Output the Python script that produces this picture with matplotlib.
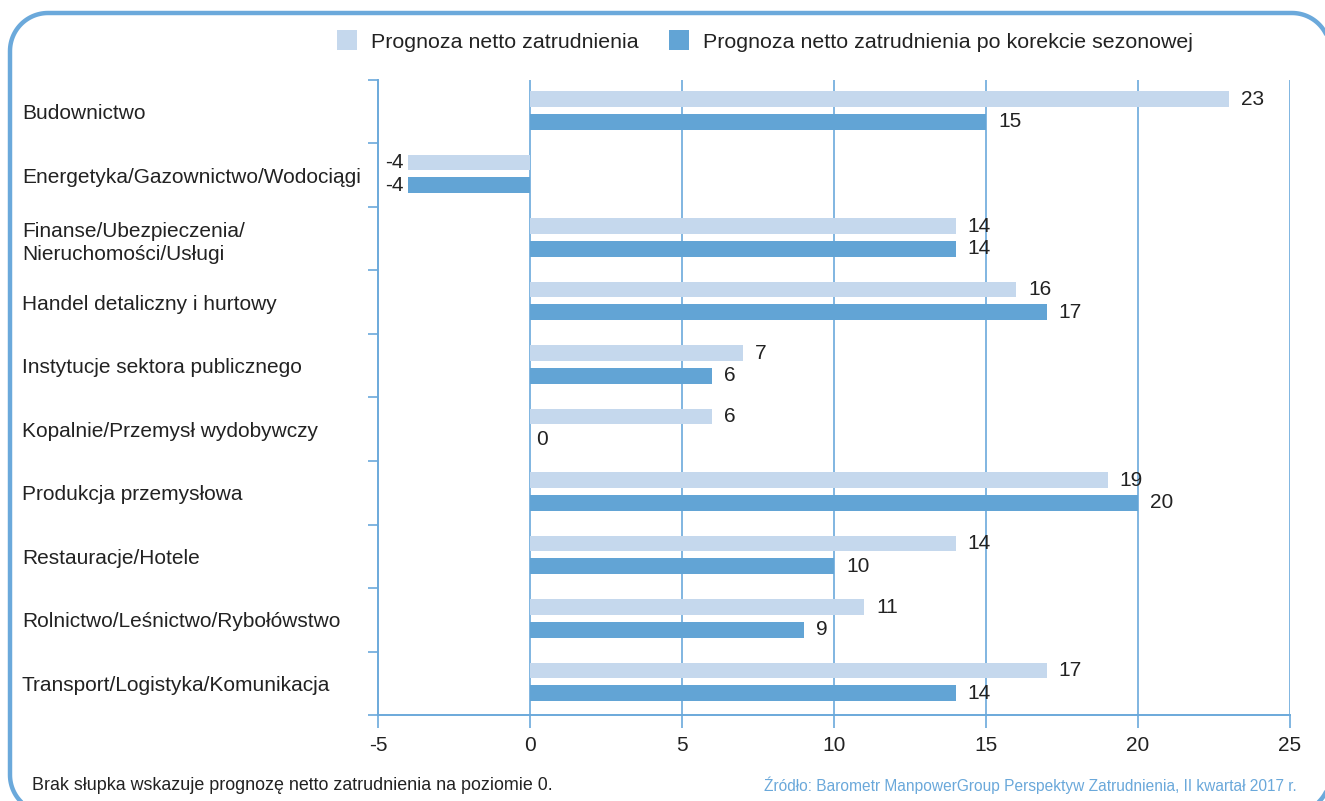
import numpy as np
import matplotlib.pyplot as plt
from matplotlib.patches import Patch

plt.rcParams['font.family'] = ['Liberation Sans', 'DejaVu Sans']

# Dane
categories = [
    "Budownictwo",
    "Energetyka/Gazownictwo/Wodociągi",
    "Finanse/Ubezpieczenia/\nNieruchomości/Usługi",
    "Handel detaliczny i hurtowy",
    "Instytucje sektora publicznego",
    "Kopalnie/Przemysł wydobywczy",
    "Produkcja przemysłowa",
    "Restauracje/Hotele",
    "Rolnictwo/Leśnictwo/Rybołówstwo",
    "Transport/Logistyka/Komunikacja",
]
netto = [23, -4, 14, 16, 7, 6, 19, 14, 11, 17]
netto_sez = [15, -4, 14, 17, 6, 0, 20, 10, 9, 14]
x_ticks = [-5, 0, 5, 10, 15, 20, 25]

series_names = ["Prognoza netto zatrudnienia",
                "Prognoza netto zatrudnienia po korekcie sezonowej"]
footnote = "Brak słupka wskazuje prognozę netto zatrudnienia na poziomie 0."
source = "Źródło: Barometr ManpowerGroup Perspektyw Zatrudnienia, II kwartał 2017 r."

LIGHT = '#c5d8ed'
DARK = '#62a4d5'
LINE = '#6ba9db'
TXT = '#222222'
FS = 15

W, H = 1325, 801
fig = plt.figure(figsize=(W / 100, H / 100), dpi=100)

# Ramka z zaokrąglonymi rogami (w pikselach, y od dołu)
bg = fig.add_axes([0, 0, 1, 1], zorder=-1)
bg.set_xlim(0, W)
bg.set_ylim(0, H)
bg.axis('off')
x0, x1, y0, y1, r = 10, 1330, -12, 788, 38
t = np.linspace(0, np.pi / 2, 30)
px = np.concatenate([x1 - r + r * np.cos(t), x0 + r - r * np.sin(t),
                     x0 + r - r * np.cos(t), x1 - r + r * np.sin(t)])
py = np.concatenate([y1 - r + r * np.sin(t), y1 - r + r * np.cos(t),
                     y0 + r - r * np.sin(t), y0 + r - r * np.cos(t)])
px = np.append(px, px[0])
py = np.append(py, py[0])
bg.plot(px, py, color=LINE, linewidth=3.2, clip_on=False,
        solid_capstyle='round')

ax = fig.add_axes([378 / W, 1 - 715 / H, (1290 - 378) / W, (715 - 80) / H])
ax.patch.set_alpha(0)

ypos = list(range(len(categories)))
h = 0.25
ax.barh([y - 0.2 for y in ypos], netto, height=h, color=LIGHT, zorder=3)
ax.barh([y + 0.16 for y in ypos], netto_sez, height=h, color=DARK, zorder=3)

# Etykiety wartości
for y, a, b in zip(ypos, netto, netto_sez):
    for v, yy in ((a, y - 0.2), (b, y + 0.16)):
        if v > 0:
            off, ha = 12, 'left'
        elif v < 0:
            off, ha = -5, 'right'
        else:
            off, ha = 6, 'left'
        ax.annotate(str(v), (v, yy), xytext=(off, 0), textcoords='offset pixels',
                    ha=ha, va='center', fontsize=FS, color=TXT)

ax.set_xlim(-5, 25)
ax.set_ylim(9.5, -0.5)
ax.set_xticks(x_ticks)
ax.set_xticklabels([str(t) for t in x_ticks], fontsize=FS, color=TXT)
ax.tick_params(axis='x', length=9, width=1.2, color=LINE, pad=6)

ax.set_yticks(ypos)
ax.set_yticklabels(categories, fontsize=FS, color=TXT, ha='left',
                   linespacing=1.3)
ax.tick_params(axis='y', which='major', length=0, pad=356 * 0.72)
ax.set_yticks([y - 0.5 for y in ypos] + [9.5], minor=True)
ax.tick_params(axis='y', which='minor', length=7, width=1.2, color=LINE)

for s in ('top', 'right'):
    ax.spines[s].set_visible(False)
for s in ('left', 'bottom'):
    ax.spines[s].set_color(LINE)
    ax.spines[s].set_linewidth(1.4)

for tk in x_ticks[1:]:
    ax.axvline(tk, color=LINE, linewidth=1.2, zorder=2)

handles = [Patch(facecolor=LIGHT), Patch(facecolor=DARK)]
fig.legend(handles, series_names, loc='center left',
           bbox_to_anchor=(337 / W, 1 - 41 / H), ncol=2, frameon=False,
           prop={'size': 15.4}, handlelength=0.93, handleheight=1.03,
           handletextpad=0.65, columnspacing=1.45, borderpad=0, borderaxespad=0,
           labelcolor=TXT)

fig.text(32 / W, 1 - 785 / H, footnote, fontsize=12.9, color=TXT, va='center')
fig.text(1297 / W, 1 - 785 / H, source, fontsize=11.2, color='#6aa8da',
         va='center', ha='right')

fig.savefig("out.png", dpi=100)
